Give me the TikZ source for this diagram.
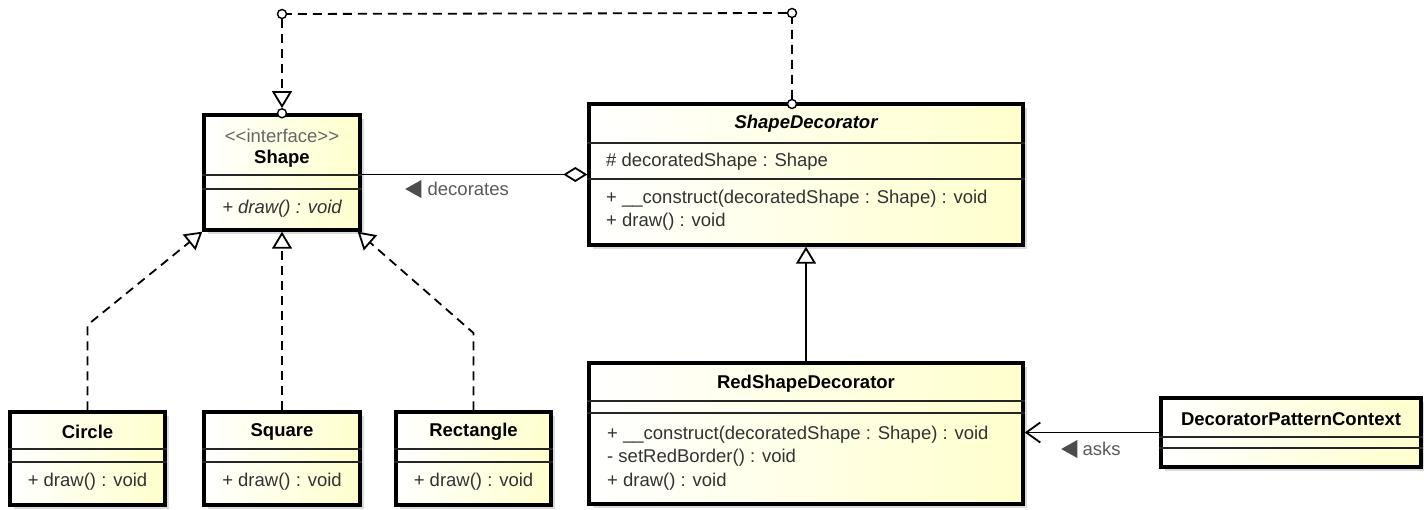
\documentclass[tikz,border=0pt]{standalone}
\usepackage{fontspec}
\setmainfont{Liberation Sans}
\usetikzlibrary{arrows.meta,positioning,shadows,shapes.geometric}
\definecolor{clsyellow}{RGB}{255,255,205}
\definecolor{membergray}{RGB}{50,50,50}
\begin{document}
\begin{tikzpicture}[x=1pt, y=-1pt, font=\fontsize{18.5}{22}\selectfont,
  cls/.style={draw, line width=3.4pt, left color=white, right color=clsyellow,
    drop shadow={shadow xshift=4pt, shadow yshift=-4pt, fill=black!14, opacity=1},
    inner sep=0pt},
  sep/.style={line width=1.6pt, black!85},
  title/.style={font=\fontsize{18.5}{22}\selectfont\bfseries, inner sep=1pt},
  member/.style={text=membergray, inner sep=1pt},
  stereo/.style={text=black!60, inner sep=1pt},
  lbl/.style={text=black!65, inner sep=1pt},
  dirtri/.style={isosceles triangle, isosceles triangle stretches, shape border rotate=180,
    minimum width=18pt, minimum height=16pt, inner sep=0pt, fill=black!70},
  joint/.style={circle, draw, fill=white, line width=1.4pt, minimum size=9pt, inner sep=0pt},
  real/.style={line width=1.8pt, dash pattern=on 9pt off 6pt,
    -{Triangle[open, width=20pt, length=17pt, line width=1.8pt]}},
  gen/.style={line width=1.8pt, -{Triangle[open, width=20pt, length=17pt, line width=1.8pt]}},
  aggr/.style={line width=1.8pt, {Diamond[open, length=24pt, width=15pt, line width=1.8pt]}-},
  navi/.style={line width=1.8pt, -{Straight Barb[length=14pt, width=20pt, line width=1.8pt]}}]
\useasboundingbox (0,0) rectangle (1424,510);

% classes
\node[cls, minimum width=156pt, minimum height=115pt] (shape) at (282,172.5) {};
\node[cls, minimum width=434pt, minimum height=141pt] (deco) at (806,174.5) {};
\node[cls, minimum width=434pt, minimum height=141pt] (red) at (806,433.5) {};
\node[cls, minimum width=260pt, minimum height=69pt] (ctx) at (1291,432.5) {};
\node[cls, minimum width=155pt, minimum height=93pt] (circle) at (87.5,458.5) {};
\node[cls, minimum width=156pt, minimum height=93pt] (square) at (282,458.5) {};
\node[cls, minimum width=155pt, minimum height=93pt] (rect) at (473.5,458.5) {};

% compartments
\foreach \n/\ya/\yb in {shape/175/189, deco/143/179, red/401/413, ctx/437/448,
                        circle/449/462, square/449/462, rect/449/462} {
  \draw[sep] (\n.west |- 0,\ya) -- (\n.east |- 0,\ya);
  \draw[sep] (\n.west |- 0,\yb) -- (\n.east |- 0,\yb);
}

% Shape
\node[stereo] (shapestereo) at (282,136) {{<}{<}interface{>}{>}};
\node[title] (shapetitle) at (282,159) {Shape};
\node[member] (shapeop) at (282,209) {\itshape + draw() : void};

% ShapeDecorator
\node[title] (decotitle) at (806,124) {\itshape ShapeDecorator};
\node[member, anchor=west] (decoattr) at (605,162) {\# decoratedShape : Shape};
\node[member, anchor=west] (decoop1) at (605,199) {+ \_\_construct(decoratedShape : Shape) : void};
\node[member, anchor=west] (decoop2) at (605,222) {+ draw() : void};

% RedShapeDecorator
\node[title] (redtitle) at (806,384) {RedShapeDecorator};
\node[member, anchor=west] (redop1) at (606,435) {+ \_\_construct(decoratedShape : Shape) : void};
\node[member, anchor=west] (redop2) at (606,458) {- setRedBorder() : void};
\node[member, anchor=west] (redop3) at (606,482) {+ draw() : void};

% DecoratorPatternContext
\node[title] (ctxtitle) at (1291,419) {DecoratorPatternContext};

% concrete shapes
\node[title] (circletitle) at (87.5,432) {Circle};
\node[member] (circleop) at (87.5,482) {+ draw() : void};
\node[title] (squaretitle) at (282,432) {Square};
\node[member] (squareop) at (282,482) {+ draw() : void};
\node[title] (recttitle) at (473.5,432) {Rectangle};
\node[member] (rectop) at (473.5,482) {+ draw() : void};

% realization ShapeDecorator -> Shape
\node[joint] (jd) at (792,104) {};
\node[joint] (jr) at (792,13) {};
\node[joint] (jl) at (282,14) {};
\draw[line width=1.8pt, dash pattern=on 9pt off 6pt] (jd) -- (jr) -- (jl);
\node[joint] (js) at (shape.north) {};
\draw[real] (jl) -- (js);

% realizations of the concrete shapes
\coordinate (circlebend) at (87.5,325);
\coordinate (rectbend) at (473.5,333);
\draw[real] (circle.north) -- (circlebend) -- (shape.south west);
\draw[real] (square.north) -- (shape.south);
\draw[real] (rect.north) -- (rectbend) -- ([xshift=-4pt]shape.south east);

% decorates
\draw[aggr] (deco.west) -- (deco.west -| shape.east);
\node[dirtri] (decotri) at (416,189) {};
\node[lbl, right=5pt of decotri] (decolbl) {decorates};

% generalization
\draw[gen] (red.north) -- (deco.south);

% asks
\draw[navi] (ctx.west) -- (ctx.west -| red.east);
\node[dirtri] (askstri) at (1072,449) {};
\node[lbl, right=4pt of askstri] (askslbl) {asks};
\end{tikzpicture}
\end{document}
